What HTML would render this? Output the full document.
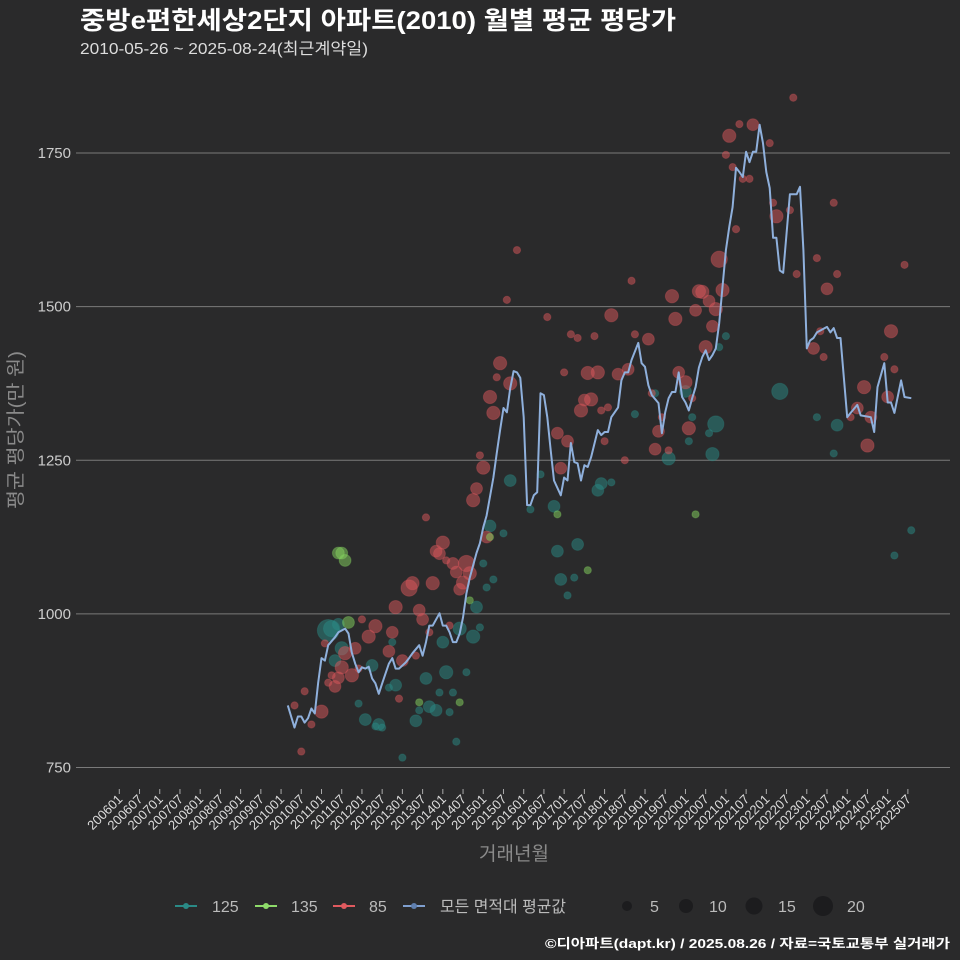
<!DOCTYPE html>
<html><head><meta charset="utf-8">
<style>
html,body{margin:0;padding:0;background:#2a2a2b;}
svg{display:block;font-family:"Liberation Sans","Noto Sans CJK KR",sans-serif;}
</style></head>
<body>
<svg id="chart" width="960" height="960" viewBox="0 0 960 960" xmlns="http://www.w3.org/2000/svg">
<rect x="0" y="0" width="960" height="960" fill="#2a2a2b"/>
<text x="80" y="29" font-size="25" font-weight="bold" fill="#ffffff" textLength="596" lengthAdjust="spacingAndGlyphs">중방e편한세상2단지 아파트(2010) 월별 평균 평당가</text>
<text x="80" y="54" font-size="16" fill="#dddddd" textLength="288" lengthAdjust="spacingAndGlyphs">2010-05-26 ~ 2025-08-24(최근계약일)</text>
<g id="grid"></g>
<g id="bubbles"></g>
<g id="line"></g>
<g id="xaxis"></g>
<text transform="translate(22,430) rotate(-90)" text-anchor="middle" font-size="19" fill="#8a8a8a" textLength="158" lengthAdjust="spacingAndGlyphs">평균 평당가(만 원)</text>
<text x="514" y="860" text-anchor="middle" font-size="19" fill="#8a8a8a">거래년월</text>
<g font-size="16" fill="#bbbbbb">
  <g><line x1="175" y1="906" x2="197" y2="906" stroke="#2a8a86" stroke-width="2"/><circle cx="186" cy="906" r="3" fill="#2a8a86"/><text x="212" y="912">125</text></g>
  <g><line x1="255" y1="906" x2="277" y2="906" stroke="#8edb6a" stroke-width="2"/><circle cx="266" cy="906" r="3" fill="#8edb6a"/><text x="291" y="912">135</text></g>
  <g><line x1="333" y1="906" x2="355" y2="906" stroke="#e05a5f" stroke-width="2"/><circle cx="344" cy="906" r="3" fill="#e05a5f"/><text x="369" y="912">85</text></g>
  <g><line x1="403" y1="906" x2="425" y2="906" stroke="#7f9fcf" stroke-width="2"/><circle cx="414" cy="906" r="3" fill="#5f7faf"/><text x="440" y="912" textLength="126" lengthAdjust="spacingAndGlyphs">모든 면적대 평균값</text></g>
  <g><circle cx="627" cy="906" r="5" fill="#1c1c1e"/><text x="650" y="912">5</text></g>
  <g><circle cx="686" cy="906" r="7" fill="#1c1c1e"/><text x="709" y="912">10</text></g>
  <g><circle cx="754" cy="906" r="8.5" fill="#1c1c1e"/><text x="778" y="912">15</text></g>
  <g><circle cx="823" cy="906" r="10" fill="#1c1c1e"/><text x="847" y="912">20</text></g>
</g>
<text x="545" y="948" font-size="13" font-weight="bold" fill="#ffffff" textLength="405" lengthAdjust="spacingAndGlyphs">©디아파트(dapt.kr) / 2025.08.26 / 자료=국토교통부 실거래가</text>
</svg>
<script>
// month indices are months since 2006-01
const yTicks = [750, 1000, 1250, 1500, 1750];
const xTickLabels = ["200601","200607","200701","200707","200801","200807","200901","200907","201001","201007","201101","201107","201201","201207","201301","201307","201401","201407","201501","201507","201601","201607","201701","201707","201801","201807","201901","201907","202001","202007","202101","202107","202201","202207","202301","202307","202401","202407","202501","202507"];
const avgMonths = [50,52,53,54,55,56,57,58,59,60,61,62,64,65,67,68,69,70,71,72,73,74,75,76,77,78,80,81,82,83,85,86,87,89,90,91,92,93,95,96,97,98,99,100,101,102,103,104,106,107,108,109,111,112,113,114,115,116,117,118,119,120,121,122,123,124,125,126,127,128,129,131,132,133,134,135,136,137,138,139,140,142,143,144,145,146,148,149,150,151,152,154,155,156,157,158,160,161,162,163,164,165,166,167,168,169,170,171,172,173,174,175,176,177,178,179,180,181,182,183,184,185,186,187,188,189,190,191,192,193,194,195,196,197,198,199,201,202,203,204,205,206,207,210,211,212,213,214,216,217,219,220,223,224,225,227,228,229,230,232,233,235];
const avgValues = [851,815,833,833,823,830,846,838,887,928,924,949,962,970,976,968,937,919,905,913,911,914,895,887,870,887,919,928,911,911,921,928,936,949,932,954,981,981,1001,981,981,970,954,954,968,994,1033,1059,1099,1115,1141,1160,1222,1261,1299,1335,1328,1367,1395,1393,1384,1320,1177,1177,1193,1198,1359,1356,1320,1266,1217,1193,1222,1217,1278,1247,1245,1217,1242,1239,1255,1299,1291,1296,1296,1320,1336,1380,1393,1393,1413,1441,1408,1402,1372,1356,1343,1294,1328,1351,1361,1361,1393,1353,1344,1331,1351,1369,1401,1418,1429,1413,1421,1432,1473,1532,1592,1630,1662,1726,1719,1711,1752,1735,1752,1752,1796,1766,1719,1693,1612,1612,1559,1555,1620,1683,1683,1695,1592,1432,1445,1449,1458,1467,1458,1465,1449,1449,1320,1327,1340,1323,1320,1296,1369,1408,1344,1344,1327,1380,1353,1351];
const redMonths = [52,55,57,54,60,61,63,62,64,65,66,67,69,70,72,74,76,71,80,81,82,83,84,86,87,89,90,88,91,93,92,94,95,96,97,99,100,103,104,102,101,98,109,105,106,108,107,110,111,112,113,116,115,118,127,132,131,130,133,134,136,137,141,139,142,148,151,146,152,153,157,164,165,171,172,173,179,175,177,176,174,178,183,180,182,181,184,188,193,185,187,194,195,199,200,207,201,212,213,210,233,229,206,208,209,227,230,138,140,143,145,158,166,168,170,221,228,217,219,223,160,161,169,222,144,159,163,150];
const redValues = [851,874,820,776,841,952,900,888,882,896,913,936,900,944,991,963,980,911,939,970,1011,862,924,1042,1050,1006,991,932,1157,1050,970,1102,1098,1116,1087,1082,1068,1082,1066,1051,1040,981,1125,1185,1204,1238,1258,1353,1327,1385,1408,1375,1511,1592,1483,1393,1237,1294,1281,1455,1449,1331,1452,1392,1393,1390,1398,1486,1542,1455,1447,1517,1480,1494,1525,1524,1527,1509,1496,1468,1434,1577,1626,1747,1727,1778,1797,1796,1766,1708,1708,1669,1647,1657,1840,1579,1553,1669,1553,1529,1568,1460,1432,1460,1418,1418,1398,1348,1349,1331,1336,1359,1393,1377,1351,1369,1353,1320,1335,1320,1297,1320,1302,1274,1281,1268,1266,1250];
const redSizes = [3,3,3,3,10,3,3,3,8,8,10,10,10,8,3,10,10,3,8,8,10,3,8,15,10,8,8,3,3,10,3,8,8,10,3,8,8,15,10,10,8,3,8,10,8,10,3,10,10,3,10,10,3,3,3,3,8,8,8,3,3,10,3,10,10,8,8,10,3,3,8,10,10,8,10,10,10,8,10,8,10,15,3,3,3,10,3,8,3,3,3,3,10,3,3,3,3,3,3,8,3,10,8,3,3,3,3,8,10,3,3,3,8,10,3,10,8,3,8,8,8,3,10,10,3,8,3,3];
const tealMonths = [62,63,65,66,64,81,75,71,73,77,78,76,82,80,88,84,92,94,89,98,100,95,99,91,97,103,96,101,107,105,106,109,111,108,114,110,116,122,129,125,130,136,131,135,133,142,143,146,153,159,168,170,175,169,177,176,163,178,180,196,207,213,212,230,235];
const tealValues = [973,976,983,944,924,954,916,854,828,820,815,817,884,880,826,766,849,843,843,840,792,872,872,895,905,905,954,976,978,963,1011,1043,1056,1082,1131,1143,1217,1170,1175,1227,1102,1113,1056,1059,1030,1201,1212,1214,1325,1359,1362,1320,1294,1281,1309,1260,1253,1434,1452,1362,1320,1307,1261,1095,1136];
const tealSizes = [27,15,8,10,8,3,8,3,8,8,3,3,8,3,8,3,8,8,3,3,3,3,3,8,10,3,8,10,3,10,8,3,3,3,3,8,8,3,8,3,8,8,8,3,3,8,8,3,3,3,8,3,3,3,15,10,10,3,3,15,3,8,3,3,3];
const greenMonths = [65,66,67,68,89,101,104,110,130,171,139];
const greenValues = [1099,1099,1087,986,856,856,1022,1125,1162,1162,1071];
const greenSizes = [8,8,8,8,3,3,3,3,3,3,3];

const NS = "http://www.w3.org/2000/svg";
const plotLeft = 76, plotRight = 950;
function xScale(m){ return 119.3 + m * 3.37; }
function yScale(v){ return 767.5 - (v - 750) * (614.5 / 1000); }
function rScale(s){ return 2.1 * Math.sqrt(s); }
function mk(tag, attrs, parent){ const e = document.createElementNS(NS, tag); for (const k in attrs) e.setAttribute(k, attrs[k]); parent.appendChild(e); return e; }

const grid = document.getElementById('grid');
yTicks.forEach(t => {
  const y = yScale(t);
  const gl = mk('line', {x1: plotLeft, x2: plotRight, y1: y, y2: y, stroke: '#7a7a7a', 'stroke-width': 1}, grid);
  
  
  const tl = mk('text', {x: 71, y: y + 5, 'text-anchor': 'end', 'font-size': 15, fill: '#cccccc'}, grid);
  tl.textContent = t;
  
  
});

const xa = document.getElementById('xaxis');
xTickLabels.forEach((lab, i) => {
  const x = xScale(i * 6);
  const tk = mk('line', {x1: x, x2: x, y1: 789, y2: 794, stroke: '#aaaaaa', 'stroke-width': 1}, xa);
  
  
  const tx = mk('text', {transform: 'translate(' + (x + 4) + ',800) rotate(-45)', 'text-anchor': 'end', 'font-size': 13, fill: '#dddddd'}, xa);
  tx.textContent = lab;
  
  
});

const bg = document.getElementById('bubbles');
function drawSeries(months, values, sizes, color, name){
  months.forEach((m, i) => {
    const c = mk('circle', {cx: xScale(m), cy: yScale(values[i]), r: rScale(sizes[i]), fill: color, 'fill-opacity': 0.5, stroke: color, 'stroke-opacity': 0.3, 'stroke-width': 1}, bg);
    
    
  });
}
drawSeries(tealMonths, tealValues, tealSizes, '#2a8a86', 'bubble-125');
drawSeries(redMonths, redValues, redSizes, '#d9575c', 'bubble-85');
drawSeries(greenMonths, greenValues, greenSizes, '#86d35f', 'bubble-135');

const lg = document.getElementById('line');
const pts = avgMonths.map((m, i) => xScale(m).toFixed(1) + ',' + yScale(avgValues[i]).toFixed(1)).join(' ');
const pl = mk('polyline', {points: pts, fill: 'none', stroke: '#8fb0dc', 'stroke-width': 2, 'stroke-linejoin': 'round'}, lg);


</script>
</body></html>
